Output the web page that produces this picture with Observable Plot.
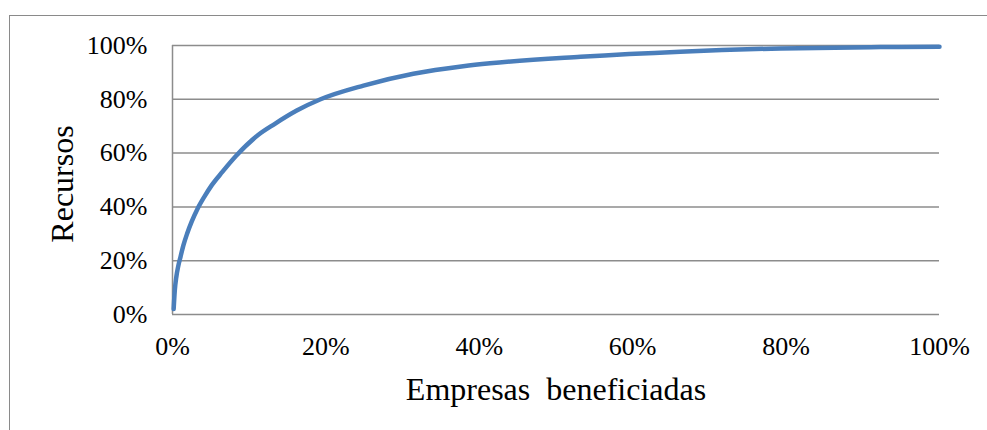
<!DOCTYPE html>
<html>
<head>
<meta charset="utf-8">
<script src="https://cdn.jsdelivr.net/npm/d3@7"></script>
<script src="https://cdn.jsdelivr.net/npm/@observablehq/plot@0.6"></script>
<style>
  html, body { margin: 0; padding: 0; background: #fff; }
  #wrap { position: relative; width: 987px; height: 430px; overflow: hidden; }
  #frame { position: absolute; left: 8.5px; top: 15px; width: 1000px; height: 500px;
           border-left: 1.5px solid #8a8a8a; border-top: 1.5px solid #8a8a8a; box-sizing: border-box; }
  #chart { position: absolute; left: 0; top: 0; }
  #chart svg text { white-space: pre; font-family: "Liberation Serif", "Times New Roman", serif !important; fill: #000; }
</style>
</head>
<body>
<div id="wrap"><div id="frame"></div><div id="chart"></div></div>
<script>
// Share of firms benefited (x) vs cumulative share of resources (y)
const empresas = [0.0015, 0.003, 0.005, 0.0075, 0.0105, 0.014, 0.019, 0.025, 0.033, 0.042, 0.051, 0.065, 0.083, 0.112, 0.133, 0.162, 0.193, 0.249, 0.314, 0.379, 0.414, 0.532, 0.662, 0.793, 0.923, 1.0];
const recursos = [0.02, 0.09, 0.14, 0.18, 0.215, 0.255, 0.30, 0.345, 0.395, 0.44, 0.48, 0.53, 0.59, 0.668, 0.708, 0.758, 0.80, 0.851, 0.895, 0.923, 0.934, 0.958, 0.977, 0.989, 0.994, 0.995];
const xTicks = [0, 0.2, 0.4, 0.6, 0.8, 1.0];
const yTicks = [0, 0.2, 0.4, 0.6, 0.8, 1.0];
const xTitle = "Empresas  beneficiadas";
const yTitle = "Recursos";

const data = empresas.map((x, i) => ({x, y: recursos[i]}));
const pct = d3.format(".0%");
const serif = "Liberation Serif";

const chart = Plot.plot({
  width: 987,
  height: 430,
  marginLeft: 172,
  marginRight: 48,
  marginTop: 45,
  marginBottom: 116,
  style: { fontFamily: serif, fontSize: "26px", color: "#000", background: "transparent" },
  x: { domain: [0, 1], label: null },
  y: { domain: [0, 1], label: null },
  marks: [
    Plot.ruleY(yTicks, { stroke: "#8c8c8c", strokeWidth: 1.5, strokeOpacity: 1 }),
    Plot.ruleX([0], { stroke: "#8c8c8c", strokeWidth: 1.5, strokeOpacity: 1 }),
    Plot.axisX({ ticks: xTicks, tickFormat: pct, tickSize: 0, tickPadding: 22.5, fontSize: 26, label: null }),
    Plot.axisY({ ticks: yTicks, tickFormat: pct, tickSize: 0, tickPadding: 25, fontSize: 26, label: null }),
    Plot.line(data, { x: "x", y: "y", stroke: "#4a7ebb", strokeWidth: 4.5, curve: "monotone-x" }),
    Plot.text([xTitle], { frameAnchor: "bottom", text: d => d, dy: 75, textAnchor: "middle", lineAnchor: "middle", fontSize: 32 }),
    Plot.text([yTitle], { frameAnchor: "left", text: d => d, dx: -110, dy: 4, rotate: -90, textAnchor: "middle", lineAnchor: "middle", fontSize: 32 })
  ]
});
document.getElementById("chart").appendChild(chart);
</script>
</body>
</html>
